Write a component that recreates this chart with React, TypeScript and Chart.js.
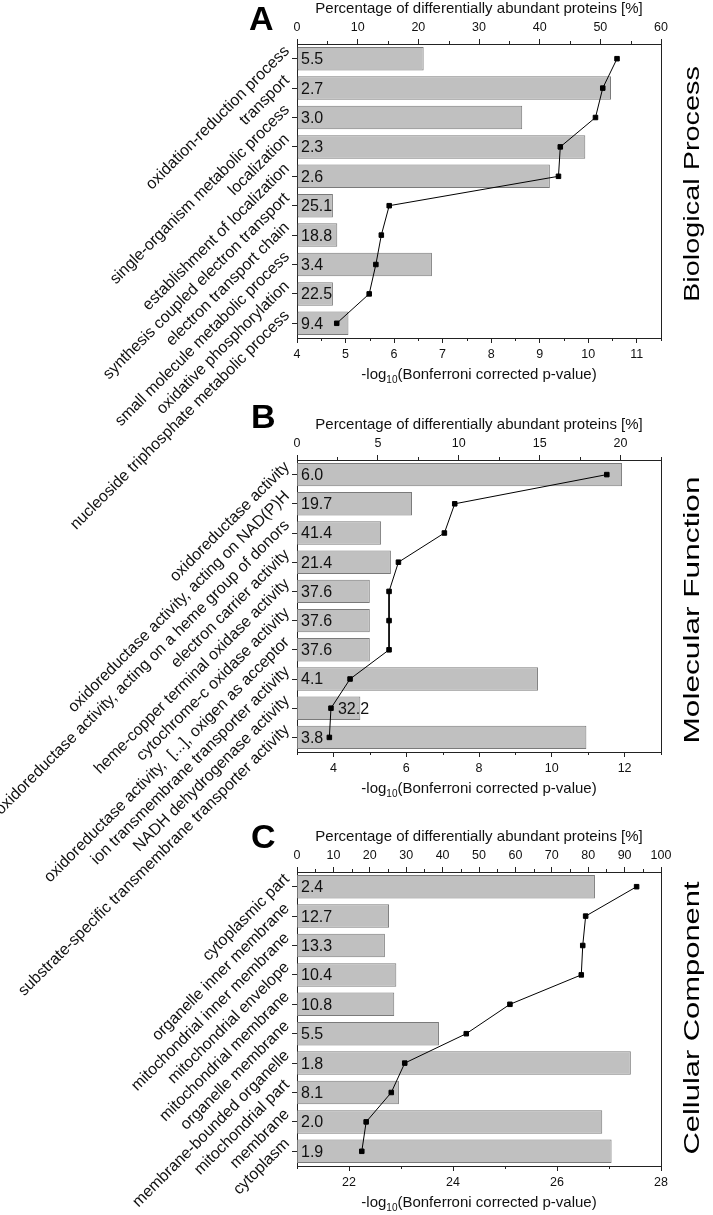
import React, { useEffect, useRef } from 'react';
import { Chart, registerables } from 'chart.js';

Chart.register(...registerables);

const FONT = '"Liberation Sans", Arial, Helvetica, sans-serif';
const AXIS = '#222222';
const TXT = '#111111';
const BAR_FILL = '#c0c0c0';
const BAR_EDGE = '#7a7a7a';

// ---------- Panel A: Biological Process ----------
const bpCategories = [
  'oxidation-reduction process',
  'transport',
  'single-organism metabolic process',
  'localization',
  'establishment of localization',
  'synthesis coupled electron transport',
  'electron transport chain',
  'small molecule metabolic process',
  'oxidative phosphorylation',
  'nucleoside triphosphate metabolic process',
];
const bpLogP = [6.61, 10.47, 8.64, 9.94, 9.21, 4.74, 4.83, 6.78, 4.74, 5.06];
const bpPercent = [52.75, 50.4, 49.2, 43.4, 43.1, 15.2, 13.9, 13.0, 11.9, 6.55];
const bpBarLabels = ['5.5', '2.7', '3.0', '2.3', '2.6', '25.1', '18.8', '3.4', '22.5', '9.4'];
const bpLogTicks = [4, 5, 6, 7, 8, 9, 10, 11];
const bpLogMinor = [4.5, 5.5, 6.5, 7.5, 8.5, 9.5, 10.5, 11.5];
const bpPctTicks = [0, 10, 20, 30, 40, 50, 60];
const bpPctMinor = [5, 15, 25, 35, 45, 55];

// ---------- Panel B: Molecular Function ----------
const mfCategories = [
  'oxidoreductase activity',
  'oxidoreductase activity, acting on NAD(P)H',
  'oxidoreductase activity, acting on a heme group of donors',
  'electron carrier activity',
  'heme-copper terminal oxidase activity',
  'cytochrome-c oxidase activity',
  'oxidoreductase activity,  [...], oxigen as acceptor',
  'ion transmembrane transporter activity',
  'NADH dehydrogenase activity',
  'substrate-specific transmembrane transporter activity',
];
const mfLogP = [11.93, 6.16, 5.31, 5.58, 5.0, 5.0, 5.0, 9.62, 4.74, 10.95];
const mfPercent = [19.15, 9.75, 9.11, 6.27, 5.69, 5.69, 5.69, 3.28, 2.1, 2.0];
const mfBarLabels = ['6.0', '19.7', '41.4', '21.4', '37.6', '37.6', '37.6', '4.1', '32.2', '3.8'];
const mfLogTicks = [4, 6, 8, 10, 12];
const mfLogMinor = [3, 5, 7, 9, 11, 13];
const mfPctTicks = [0, 5, 10, 15, 20];
const mfPctMinor = [2.5, 7.5, 12.5, 17.5, 22.5];

// ---------- Panel C: Cellular Component ----------
const ccCategories = [
  'cytoplasmic part',
  'organelle inner membrane',
  'mitochondrial inner membrane',
  'mitochondrial envelope',
  'mitochondrial membrane',
  'organelle membrane',
  'membrane-bounded organelle',
  'mitochondrial part',
  'membrane',
  'cytoplasm',
];
const ccLogP = [26.73, 22.77, 22.69, 22.91, 22.87, 23.73, 27.42, 22.96, 26.87, 27.05];
const ccPercent = [93.3, 79.3, 78.5, 78.1, 58.5, 46.5, 29.6, 25.9, 19.0, 17.8];
const ccBarLabels = ['2.4', '12.7', '13.3', '10.4', '10.8', '5.5', '1.8', '8.1', '2.0', '1.9'];
const ccLogTicks = [22, 24, 26, 28];
const ccLogMinor = [21, 23, 25, 27];
const ccPctTicks = [0, 10, 20, 30, 40, 50, 60, 70, 80, 90, 100];
const ccPctMinor = [5, 15, 25, 35, 45, 55, 65, 75, 85, 95];

const TOP_TITLE = 'Percentage of differentially abundant proteins [%]';

type Panel = {
  categories: string[];
  logP: number[];
  percent: number[];
  barLabels: string[];
  logMin: number;
  logMax: number;
  logTicks: number[];
  logMinor: number[];
  pctMin: number;
  pctMax: number;
  pctTicks: number[];
  pctMinor: number[];
  letter: string;
  sideTitle: string;
  canvasTop: number;
  canvasH: number;
  axisTop: number;
  axisBottom: number;
  letterX: number;
  letterBaseline: number;
  sideCenterY: number;
  sideLength: number;
};

const panels: Panel[] = [
  {
    categories: bpCategories, logP: bpLogP, percent: bpPercent, barLabels: bpBarLabels,
    logMin: 4, logMax: 11.5, logTicks: bpLogTicks, logMinor: bpLogMinor,
    pctMin: 0, pctMax: 60, pctTicks: bpPctTicks, pctMinor: bpPctMinor,
    letter: 'A', sideTitle: 'Biological Process',
    canvasTop: 0, canvasH: 560, axisTop: 44, axisBottom: 338,
    letterX: 249, letterBaseline: 30, sideCenterY: 184, sideLength: 236,
  },
  {
    categories: mfCategories, logP: mfLogP, percent: mfPercent, barLabels: mfBarLabels,
    logMin: 3, logMax: 13, logTicks: mfLogTicks, logMinor: mfLogMinor,
    pctMin: 0, pctMax: 22.5, pctTicks: mfPctTicks, pctMinor: mfPctMinor,
    letter: 'B', sideTitle: 'Molecular Function',
    canvasTop: 390, canvasH: 625, axisTop: 460, axisBottom: 752,
    letterX: 251, letterBaseline: 428, sideCenterY: 610, sideLength: 267,
  },
  {
    categories: ccCategories, logP: ccLogP, percent: ccPercent, barLabels: ccBarLabels,
    logMin: 21, logMax: 28, logTicks: ccLogTicks, logMinor: ccLogMinor,
    pctMin: 0, pctMax: 100, pctTicks: ccPctTicks, pctMinor: ccPctMinor,
    letter: 'C', sideTitle: 'Cellular Component',
    canvasTop: 800, canvasH: 415, axisTop: 872, axisBottom: 1166,
    letterX: 251, letterBaseline: 848, sideCenterY: 1018, sideLength: 273,
  },
];

const PAGE_W = 713;
const TOP_H = 44;
const BOTTOM_H = 50;
const LEFT_W = 297;
const RIGHT_PAD = PAGE_W - 661;

function makeChart(canvas: HTMLCanvasElement, p: Panel): Chart {
  const plotTop = p.axisTop - p.canvasTop;
  const plotBottom = p.axisBottom - p.canvasTop;
  const padTop = plotTop - TOP_H;
  const padBottom = p.canvasH - plotBottom - BOTTOM_H;

  const decor = {
    id: 'decor',
    afterDatasetsDraw(chart: any) {
      const { ctx, chartArea } = chart;
      const barMeta = chart.getDatasetMeta(1);
      const lineMeta = chart.getDatasetMeta(0);
      ctx.save();
      ctx.font = `16px ${FONT}`;
      ctx.fillStyle = TXT;
      ctx.textBaseline = 'middle';
      ctx.textAlign = 'left';
      barMeta.data.forEach((el: any, i: number) => {
        const label = p.barLabels[i];
        let x = chartArea.left + 4;
        const w = ctx.measureText(label).width;
        const mx = lineMeta.data[i].x;
        if (mx + 4 > x && mx - 4 < x + w) x = mx + 7;
        ctx.fillText(label, x, el.y + 1);
      });
      ctx.restore();
    },
    afterDraw(chart: any) {
      const { ctx, chartArea } = chart;
      const xs = chart.scales.x;
      const xs2 = chart.scales.x2;
      ctx.save();
      ctx.strokeStyle = AXIS;
      ctx.lineWidth = 1;
      ctx.beginPath();
      // right frame line
      ctx.moveTo(Math.round(chartArea.right) + 0.5, chartArea.top);
      ctx.lineTo(Math.round(chartArea.right) + 0.5, chartArea.bottom);
      // minor ticks bottom
      p.logMinor.forEach((v) => {
        const px = Math.round(xs.getPixelForValue(v)) + 0.5;
        ctx.moveTo(px, chartArea.bottom);
        ctx.lineTo(px, chartArea.bottom + 3);
      });
      // minor ticks top
      p.pctMinor.forEach((v) => {
        const px = Math.round(xs2.getPixelForValue(v)) + 0.5;
        ctx.moveTo(px, chartArea.top);
        ctx.lineTo(px, chartArea.top - 3);
      });
      ctx.stroke();

      // bottom axis title with subscript
      const cx = (chartArea.left + chartArea.right) / 2;
      const by = chartArea.bottom + 41;
      const mainFont = `15px ${FONT}`;
      const subFont = `10px ${FONT}`;
      const a = '-log';
      const s = '10';
      const b = '(Bonferroni corrected p-value)';
      ctx.font = mainFont;
      const wa = ctx.measureText(a).width;
      const wb = ctx.measureText(b).width;
      ctx.font = subFont;
      const ws = ctx.measureText(s).width;
      const x0 = cx - (wa + ws + wb) / 2;
      ctx.fillStyle = TXT;
      ctx.textAlign = 'left';
      ctx.textBaseline = 'alphabetic';
      ctx.font = mainFont;
      ctx.fillText(a, x0, by);
      ctx.font = subFont;
      ctx.fillText(s, x0 + wa, by + 4);
      ctx.font = mainFont;
      ctx.fillText(b, x0 + wa + ws, by);

      // panel letter
      ctx.font = `bold 34px ${FONT}`;
      ctx.fillStyle = '#000';
      ctx.fillText(p.letter, p.letterX, p.letterBaseline - p.canvasTop);

      // side title (rotated, stretched along its length)
      ctx.save();
      ctx.translate(699, p.sideCenterY - p.canvasTop);
      ctx.rotate(-Math.PI / 2);
      ctx.font = `22px ${FONT}`;
      const wt = ctx.measureText(p.sideTitle).width;
      ctx.scale(p.sideLength / wt, 1);
      ctx.textAlign = 'center';
      ctx.textBaseline = 'alphabetic';
      ctx.fillStyle = '#000';
      ctx.fillText(p.sideTitle, 0, 0);
      ctx.restore();

      ctx.restore();
    },
  };

  const tickFont = { family: FONT, size: 12.5 };

  return new Chart(canvas, {
    type: 'bar',
    data: {
      labels: p.categories,
      datasets: [
        {
          type: 'line',
          data: p.percent,
          indexAxis: 'y',
          xAxisID: 'x2',
          yAxisID: 'y',
          borderColor: '#000',
          borderWidth: 1,
          pointStyle: 'rect',
          pointRadius: 3.2,
          pointBackgroundColor: '#000',
          pointBorderColor: '#000',
          pointBorderWidth: 1,
          tension: 0,
          order: 0,
          clip: false,
        } as any,
        {
          type: 'bar',
          data: p.logP,
          xAxisID: 'x',
          yAxisID: 'y',
          base: p.logMin,
          backgroundColor: BAR_FILL,
          borderColor: BAR_EDGE,
          borderWidth: 1,
          borderSkipped: false,
          barPercentage: 0.8,
          categoryPercentage: 1,
          order: 1,
        } as any,
      ],
    },
    options: {
      indexAxis: 'y',
      animation: false,
      responsive: false,
      maintainAspectRatio: false,
      events: [],
      layout: { padding: { top: padTop, bottom: padBottom, left: 0, right: RIGHT_PAD } },
      plugins: { legend: { display: false }, tooltip: { enabled: false }, title: { display: false } },
      scales: {
        x: {
          type: 'linear',
          position: 'bottom',
          min: p.logMin,
          max: p.logMax,
          afterBuildTicks: (s: any) => { s.ticks = p.logTicks.map((v) => ({ value: v })); },
          afterFit: (s: any) => { s.height = BOTTOM_H; },
          grid: { display: true, drawOnChartArea: false, drawTicks: true, tickLength: 5, color: AXIS, lineWidth: 1 },
          border: { display: true, color: AXIS, width: 1 },
          ticks: { font: tickFont, color: TXT, padding: 4, minRotation: 0, maxRotation: 0, autoSkip: false },
        },
        x2: {
          type: 'linear',
          position: 'top',
          min: p.pctMin,
          max: p.pctMax,
          afterBuildTicks: (s: any) => { s.ticks = p.pctTicks.map((v) => ({ value: v })); },
          afterFit: (s: any) => { s.height = TOP_H; },
          grid: { display: true, drawOnChartArea: false, drawTicks: true, tickLength: 5, color: AXIS, lineWidth: 1 },
          border: { display: true, color: AXIS, width: 1 },
          ticks: { font: tickFont, color: TXT, padding: 4, minRotation: 0, maxRotation: 0, autoSkip: false },
          title: {
            display: true,
            text: TOP_TITLE,
            font: { family: FONT, size: 15 },
            color: TXT,
            padding: { top: 0, bottom: 0 },
          },
        },
        y: {
          type: 'category',
          position: 'left',
          offset: true,
          afterFit: (s: any) => { s.width = LEFT_W; },
          grid: { display: true, drawOnChartArea: false, drawTicks: true, tickLength: 5, offset: false, color: AXIS, lineWidth: 1 },
          border: { display: true, color: AXIS, width: 1 },
          ticks: {
            font: { family: FONT, size: 16 },
            color: TXT,
            padding: 5,
            labelOffset: -10,
            minRotation: 45,
            maxRotation: 45,
            autoSkip: false,
          },
        },
      },
    } as any,
    plugins: [decor],
  });
}

function PanelCanvas({ panel }: { panel: Panel }) {
  const ref = useRef<HTMLCanvasElement | null>(null);
  useEffect(() => {
    if (!ref.current) return;
    const chart = makeChart(ref.current, panel);
    return () => chart.destroy();
  }, [panel]);
  return (
    <canvas
      ref={ref}
      width={PAGE_W}
      height={panel.canvasH}
      style={{ position: 'absolute', left: 0, top: panel.canvasTop, width: PAGE_W, height: panel.canvasH }}
    />
  );
}

export default function App() {
  return (
    <div style={{ position: 'absolute', left: 0, top: 0, width: PAGE_W, height: 1215, background: '#fff', overflow: 'hidden' }}>
      {panels.map((p) => (
        <PanelCanvas key={p.letter} panel={p} />
      ))}
    </div>
  );
}
